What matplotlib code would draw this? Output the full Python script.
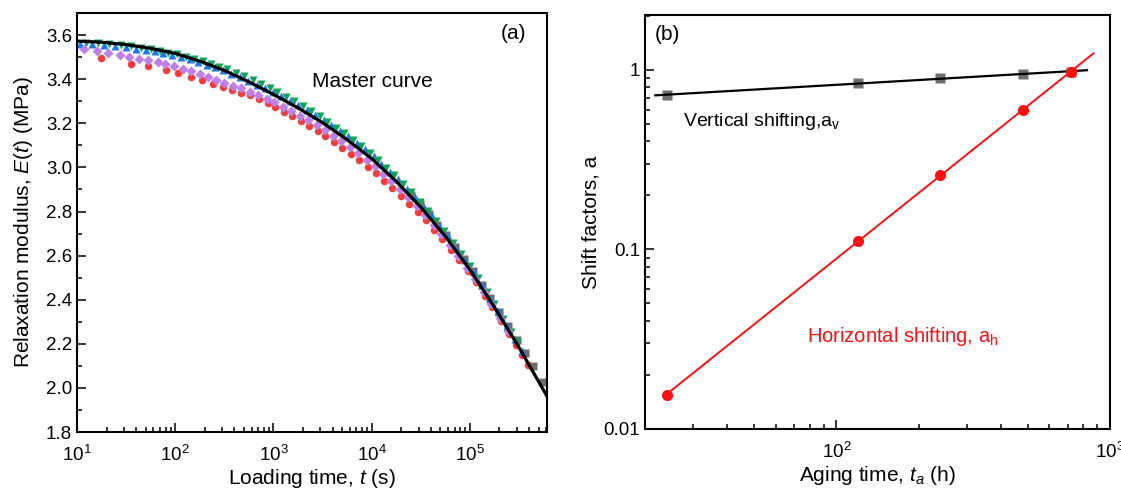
import numpy as np
import matplotlib
matplotlib.use("Agg")
import matplotlib.pyplot as plt
from matplotlib.ticker import LogLocator, FixedLocator, MultipleLocator, FuncFormatter, NullFormatter

plt.rcParams["font.family"] = ["Liberation Sans", "DejaVu Sans"]
plt.rcParams["mathtext.fontset"] = "custom"
plt.rcParams["mathtext.rm"] = "Liberation Sans"
plt.rcParams["mathtext.it"] = "Liberation Sans:italic"
plt.rcParams["mathtext.bf"] = "Liberation Sans:bold"

# ---- (a) relaxation data, log10 of loading time (s) and modulus (MPa) ----
master_logt = [1.00, 1.25, 1.50, 1.75, 2.00, 2.25, 2.50, 2.75, 3.00, 3.25, 3.50, 3.75,
               4.00, 4.25, 4.50, 4.75, 5.00, 5.25, 5.50, 5.786]
master_E = [3.573, 3.568, 3.557, 3.540, 3.517, 3.482, 3.440, 3.388, 3.331, 3.270, 3.203, 3.126,
            3.040, 2.937, 2.820, 2.688, 2.537, 2.366, 2.184, 1.962]

gray_logt = [4.40, 4.49, 4.58, 4.67, 4.76, 4.85, 4.94, 5.03, 5.12, 5.21, 5.30, 5.39, 5.48,
             5.56, 5.64, 5.74]
gray_E = [2.877, 2.835, 2.788, 2.741, 2.693, 2.640, 2.585, 2.529, 2.469, 2.408, 2.346, 2.282,
          2.219, 2.160, 2.100, 2.028]

red_logt = [1.24, 1.55, 1.72, 1.91, 2.03, 2.16, 2.27, 2.38, 2.49, 2.58, 2.67, 2.76, 2.85, 2.94,
            3.02, 3.11, 3.19, 3.28, 3.36, 3.45, 3.53, 3.62, 3.70, 3.79, 3.87, 3.96, 4.04, 4.13,
            4.21, 4.30, 4.38, 4.47, 4.55, 4.64, 4.72, 4.81, 4.89, 4.98, 5.06, 5.15, 5.23, 5.32,
            5.40, 5.47, 5.53, 5.59]
red_E = [3.498, 3.471, 3.459, 3.442, 3.430, 3.412, 3.397, 3.380, 3.366, 3.351, 3.339, 3.328,
         3.311, 3.293, 3.274, 3.252, 3.233, 3.210, 3.189, 3.164, 3.142, 3.114, 3.089, 3.059,
         3.032, 3.001, 2.973, 2.938, 2.908, 2.872, 2.836, 2.797, 2.760, 2.715, 2.676, 2.627,
         2.581, 2.530, 2.479, 2.419, 2.367, 2.303, 2.245, 2.195, 2.151, 2.104]

blue_logt = [1.03, 1.15, 1.27, 1.39, 1.50, 1.60, 1.70, 1.79, 1.88, 1.97, 2.06, 2.15, 2.23, 2.32,
             2.40, 2.49, 2.57, 2.66, 2.74, 2.83, 2.91, 3.00, 3.08, 3.17, 3.25, 3.34, 3.42, 3.51,
             3.59, 3.68, 3.76, 3.85, 3.93, 4.02, 4.10, 4.19, 4.27, 4.36, 4.44, 4.53, 4.61, 4.70,
             4.78, 4.87, 4.95, 5.04, 5.12, 5.21, 5.29, 5.38, 5.46, 5.53]
blue_E = [3.560, 3.558, 3.555, 3.550, 3.545, 3.539, 3.532, 3.526, 3.519, 3.512, 3.502, 3.490,
          3.480, 3.466, 3.454, 3.440, 3.425, 3.409, 3.394, 3.376, 3.360, 3.341, 3.322, 3.302,
          3.283, 3.260, 3.239, 3.216, 3.192, 3.166, 3.141, 3.110, 3.082, 3.050, 3.017, 2.980,
          2.946, 2.904, 2.866, 2.822, 2.780, 2.732, 2.687, 2.632, 2.582, 2.524, 2.468, 2.405,
          2.348, 2.281, 2.222, 2.169]

green_logt = [1.09, 1.21, 1.33, 1.45, 1.55, 1.65, 1.75, 1.84, 1.93, 2.02, 2.11, 2.19, 2.28, 2.36,
              2.45, 2.53, 2.62, 2.70, 2.79, 2.87, 2.96, 3.04, 3.13, 3.21, 3.30, 3.38, 3.47, 3.55,
              3.64, 3.72, 3.81, 3.89, 3.98, 4.06, 4.15, 4.23, 4.32, 4.40, 4.49, 4.57, 4.66, 4.74,
              4.83, 4.91, 5.00, 5.08, 5.17, 5.25, 5.34, 5.42, 5.48]
green_E = [3.565, 3.563, 3.559, 3.554, 3.550, 3.543, 3.537, 3.529, 3.521, 3.513, 3.503, 3.493,
           3.482, 3.471, 3.457, 3.445, 3.428, 3.413, 3.396, 3.380, 3.360, 3.341, 3.319, 3.300,
           3.277, 3.255, 3.231, 3.208, 3.180, 3.155, 3.125, 3.098, 3.067, 3.035, 2.998, 2.965,
           2.924, 2.887, 2.845, 2.803, 2.756, 2.713, 2.659, 2.609, 2.554, 2.498, 2.436, 2.380,
           2.313, 2.254, 2.210]

purple_logt = [1.07, 1.20, 1.32, 1.44, 1.53, 1.63, 1.72, 1.82, 1.90, 1.99, 2.08, 2.16, 2.25, 2.33,
               2.42, 2.50, 2.59, 2.67, 2.76, 2.84, 2.93, 3.01, 3.10, 3.18, 3.27, 3.35, 3.44, 3.52,
               3.61, 3.69, 3.78, 3.86, 3.95, 4.03, 4.12, 4.20, 4.29, 4.37, 4.46, 4.54, 4.63, 4.71,
               4.80, 4.88, 4.97, 5.05, 5.14, 5.22, 5.31, 5.39]
purple_E = [3.538, 3.527, 3.518, 3.508, 3.501, 3.492, 3.485, 3.476, 3.467, 3.460, 3.448, 3.437,
            3.424, 3.411, 3.395, 3.385, 3.370, 3.358, 3.343, 3.328, 3.311, 3.295, 3.275, 3.256,
            3.235, 3.214, 3.191, 3.170, 3.143, 3.119, 3.092, 3.065, 3.035, 3.007, 2.971, 2.939,
            2.900, 2.864, 2.823, 2.784, 2.737, 2.696, 2.646, 2.598, 2.545, 2.494, 2.433, 2.380,
            2.316, 2.259]

# ---- (b) shift factors vs aging time (h) ----
aging_h = [24, 120, 240, 480, 720]
a_v = [0.72, 0.85, 0.90, 0.95, 0.97]
a_h = [0.0155, 0.112, 0.26, 0.60, 0.97]
fit_v_range = [21.8, 824]
fit_h_range = [24, 870]

C_RED = "#F53B3B"
C_BLUE = "#1E78E6"
C_GREEN = "#10A35A"
C_PURPLE = "#BE80E4"
C_GRAY = "#6E6E6E"

fig = plt.figure(figsize=(11.21, 4.94), dpi=100)
axa = fig.add_axes([0.0687, 0.1255, 0.4193, 0.848])
axb = fig.add_axes([0.5754, 0.1316, 0.4148, 0.838])


def style_axis(ax):
    for s in ax.spines.values():
        s.set_linewidth(1.5)
    ax.tick_params(which="both", direction="in", top=False, right=False, labelsize=13.5, width=1.1)
    ax.tick_params(which="major", length=6.5)
    ax.tick_params(which="minor", length=3.5)
    ax.tick_params(axis="x", which="both", pad=9)


def t(logs):
    return 10.0 ** np.asarray(logs)


# panel (a)
ms = 5.4
axa.plot(t(gray_logt), gray_E, "s", color=C_GRAY, ms=ms, mec="none")
axa.plot(t(red_logt), red_E, "o", color=C_RED, ms=ms, mec="none")
axa.plot(t(blue_logt), blue_E, "^", color=C_BLUE, ms=ms, mec="none")
axa.plot(t(green_logt), green_E, "v", color=C_GREEN, ms=ms, mec="none")
axa.plot(t(purple_logt), purple_E, "D", color=C_PURPLE, ms=ms * 0.9, mec="none")
axa.plot(t(master_logt), master_E, "-", color="black", lw=2.3)

axa.set_xscale("log")
axa.set_xlim(10, 10 ** 5.786)
axa.set_ylim(1.8, 3.7)
axa.yaxis.set_major_locator(MultipleLocator(0.2))
axa.yaxis.set_minor_locator(MultipleLocator(0.1))
axa.yaxis.set_major_formatter(FuncFormatter(lambda v, p: f"{v:.1f}"))
axa.xaxis.set_major_locator(LogLocator(base=10, numticks=10))
axa.xaxis.set_minor_locator(LogLocator(base=10, subs=np.arange(2, 10), numticks=20))
axa.xaxis.set_minor_formatter(NullFormatter())
style_axis(axa)
axa.set_xlabel("Loading time, $t$ (s)", fontsize=15, labelpad=2)
axa.set_ylabel("Relaxation modulus, $E$($t$) (MPa)", fontsize=15, labelpad=8)
axa.text(0.928, 0.952, "(a)", transform=axa.transAxes, ha="center", va="center", fontsize=15)
axa.text(0.499, 0.836, "Master curve", transform=axa.transAxes, ha="left", va="center", fontsize=15)

# panel (b)
lv = np.log10(aging_h)
pv = np.polyfit(lv, np.log10(a_v), 1)
ph = np.polyfit(lv, np.log10(a_h), 1)
xv = np.array(fit_v_range, dtype=float)
xh = np.array(fit_h_range, dtype=float)

axb.plot(aging_h, a_v, "s", color=C_GRAY, ms=7, mec="none", zorder=2)
axb.plot(xv, 10 ** np.polyval(pv, np.log10(xv)), "-", color="black", lw=1.6, zorder=3)
axb.plot(aging_h, a_h, "o", color="#FF1010", ms=8, mec="none", zorder=4)
axb.plot(xh, 10 ** np.polyval(ph, np.log10(xh)), "-", color="#FF1010", lw=1.4, zorder=4)

axb.set_xscale("log")
axb.set_yscale("log")
axb.set_xlim(20, 1000)
axb.set_ylim(0.01, 2.02)
axb.yaxis.set_major_locator(FixedLocator([0.01, 0.1, 1]))
axb.yaxis.set_major_formatter(FuncFormatter(lambda v, p: f"{v:g}"))
axb.yaxis.set_minor_locator(LogLocator(base=10, subs=np.arange(2, 10), numticks=20))
axb.yaxis.set_minor_formatter(NullFormatter())
axb.xaxis.set_major_locator(LogLocator(base=10, numticks=10))
axb.xaxis.set_minor_locator(LogLocator(base=10, subs=np.arange(2, 10), numticks=20))
axb.xaxis.set_minor_formatter(NullFormatter())
style_axis(axb)
axb.set_xlabel("Aging time, $t_a$ (h)", fontsize=15, labelpad=2)
axb.set_ylabel("Shift factors, a", fontsize=15, labelpad=2)
axb.text(0.0215, 0.952, "(b)", transform=axb.transAxes, ha="left", va="center", fontsize=15)
axb.text(0.082, 0.742, r"Vertical shifting,a$_\mathregular{v}$", transform=axb.transAxes,
         ha="left", va="center", fontsize=14)
axb.text(0.348, 0.223, r"Horizontal shifting, a$_\mathregular{h}$", transform=axb.transAxes,
         ha="left", va="center", fontsize=14.5, color="#FF1010")

fig.savefig("out.png", dpi=100)
